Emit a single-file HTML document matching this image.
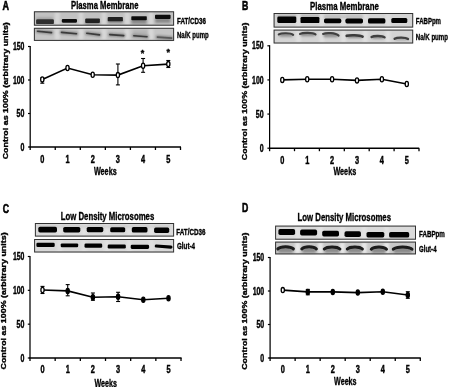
<!DOCTYPE html>
<html><head><meta charset="utf-8"><style>
html,body{margin:0;padding:0;background:#fff;width:449px;height:387px;overflow:hidden}
svg{display:block;will-change:transform;filter:blur(0.3px)}
text{font-family:"Liberation Sans", sans-serif;font-weight:bold;fill:#000;stroke:#000;stroke-width:0.35px}
</style></head><body>
<svg width="449" height="387" viewBox="0 0 449 387">
<defs><filter id="b3" filterUnits="userSpaceOnUse" x="0" y="0" width="449" height="387"><feGaussianBlur stdDeviation="0.3"/></filter><filter id="b4" filterUnits="userSpaceOnUse" x="0" y="0" width="449" height="387"><feGaussianBlur stdDeviation="0.4"/></filter><filter id="b5" filterUnits="userSpaceOnUse" x="0" y="0" width="449" height="387"><feGaussianBlur stdDeviation="0.5"/></filter><filter id="b6" filterUnits="userSpaceOnUse" x="0" y="0" width="449" height="387"><feGaussianBlur stdDeviation="0.6"/></filter><filter id="b7" filterUnits="userSpaceOnUse" x="0" y="0" width="449" height="387"><feGaussianBlur stdDeviation="0.7"/></filter><filter id="b8" filterUnits="userSpaceOnUse" x="0" y="0" width="449" height="387"><feGaussianBlur stdDeviation="0.8"/></filter><filter id="b9" filterUnits="userSpaceOnUse" x="0" y="0" width="449" height="387"><feGaussianBlur stdDeviation="0.9"/></filter><filter id="b10" filterUnits="userSpaceOnUse" x="0" y="0" width="449" height="387"><feGaussianBlur stdDeviation="1.0"/></filter><filter id="b11" filterUnits="userSpaceOnUse" x="0" y="0" width="449" height="387"><feGaussianBlur stdDeviation="1.1"/></filter><filter id="b12" filterUnits="userSpaceOnUse" x="0" y="0" width="449" height="387"><feGaussianBlur stdDeviation="1.2"/></filter><filter id="b13" filterUnits="userSpaceOnUse" x="0" y="0" width="449" height="387"><feGaussianBlur stdDeviation="1.3"/></filter><filter id="b14" filterUnits="userSpaceOnUse" x="0" y="0" width="449" height="387"><feGaussianBlur stdDeviation="1.4"/></filter><filter id="b15" filterUnits="userSpaceOnUse" x="0" y="0" width="449" height="387"><feGaussianBlur stdDeviation="1.5"/></filter></defs>

<text x="2.6" y="10.3" font-size="12.2" textLength="6.5" lengthAdjust="spacingAndGlyphs" style="stroke-width:0.6px">A</text>
<text x="71.1" y="8.9" font-size="11" textLength="67.3" lengthAdjust="spacingAndGlyphs">Plasma Membrane</text>
<rect x="33.9" y="11.3" width="140.2" height="14.4" fill="#c2c2c2"/>
<rect x="54.8" y="12.3" width="5" height="12.4" fill="#d6d6d6" filter="url(#b8)"/>
<rect x="78.5" y="12.3" width="5" height="12.4" fill="#d6d6d6" filter="url(#b8)"/>
<rect x="101.5" y="12.3" width="5" height="12.4" fill="#d6d6d6" filter="url(#b8)"/>
<rect x="124.7" y="12.3" width="5" height="12.4" fill="#d6d6d6" filter="url(#b8)"/>
<rect x="148.5" y="12.3" width="5" height="12.4" fill="#d6d6d6" filter="url(#b8)"/>
<rect x="36.5" y="17.6" width="16.5" height="2.6" fill="#777" opacity="0.5" filter="url(#b8)"/>
<rect x="36.1" y="19.2" width="17.8" height="4.9" rx="1.2" fill="#2e2e2e" opacity="1.0" filter="url(#b7)"/>
<rect x="61.8" y="18.9" width="15.2" height="3.8" rx="1.1" fill="#0e0e0e" opacity="1.0" filter="url(#b6)"/>
<rect x="85.5" y="21.5" width="14.0" height="2.7" fill="#6a6a6a" opacity="0.8" filter="url(#b8)"/>
<rect x="85.2" y="18.5" width="14.7" height="4.5" rx="0.9" fill="#222" opacity="1.0" filter="url(#b6)"/>
<rect x="108.0" y="19.8" width="14.5" height="3.0" fill="#6a6a6a" opacity="0.8" filter="url(#b8)"/>
<rect x="107.7" y="16.9" width="15.2" height="4.4" rx="0.9" fill="#222" opacity="1.0" filter="url(#b6)"/>
<rect x="131.5" y="19.0" width="15.0" height="4.8" fill="#7a7a7a" opacity="0.8" filter="url(#b10)"/>
<rect x="131.3" y="16.2" width="15.5" height="4.1" rx="0.8" fill="#0e0e0e" opacity="1.0" filter="url(#b6)"/>
<rect x="155.3" y="18.0" width="15.0" height="4.8" fill="#7a7a7a" opacity="0.8" filter="url(#b10)"/>
<rect x="155.0" y="14.7" width="15.6" height="4.2" rx="0.8" fill="#0e0e0e" opacity="1.0" filter="url(#b6)"/>
<rect x="34.4" y="11.8" width="139.2" height="13.4" fill="none" stroke="#333" stroke-width="1.0"/>
<rect x="33.9" y="27.8" width="140.2" height="13.1" fill="#c6c6c6"/>
<rect x="54.8" y="28.8" width="5" height="11.1" fill="#d8d8d8" filter="url(#b8)"/>
<rect x="78.5" y="28.8" width="5" height="11.1" fill="#d8d8d8" filter="url(#b8)"/>
<rect x="101.5" y="28.8" width="5" height="11.1" fill="#d8d8d8" filter="url(#b8)"/>
<rect x="124.7" y="28.8" width="5" height="11.1" fill="#d8d8d8" filter="url(#b8)"/>
<rect x="148.5" y="28.8" width="5" height="11.1" fill="#d8d8d8" filter="url(#b8)"/>
<path d="M37.5 31.2 L51.5 32.6" stroke="#8a8a8a" stroke-width="3.6" stroke-linecap="round" fill="none" filter="url(#b10)"/>
<path d="M37.5 31.2 L51.5 32.6" stroke="#3a3a3a" stroke-width="1.6" stroke-linecap="round" fill="none" filter="url(#b6)"/>
<path d="M61.5 32.4 L76.5 33.8" stroke="#8a8a8a" stroke-width="3.6" stroke-linecap="round" fill="none" filter="url(#b10)"/>
<path d="M61.5 32.4 L76.5 33.8" stroke="#3a3a3a" stroke-width="1.6" stroke-linecap="round" fill="none" filter="url(#b6)"/>
<path d="M86.8 33.3 L99.5 34.9" stroke="#8a8a8a" stroke-width="3.6" stroke-linecap="round" fill="none" filter="url(#b10)"/>
<path d="M86.8 33.3 L99.5 34.9" stroke="#3a3a3a" stroke-width="1.6" stroke-linecap="round" fill="none" filter="url(#b6)"/>
<path d="M109.8 34.6 L123.7 35.6" stroke="#8a8a8a" stroke-width="3.6" stroke-linecap="round" fill="none" filter="url(#b10)"/>
<path d="M109.8 34.6 L123.7 35.6" stroke="#3a3a3a" stroke-width="1.6" stroke-linecap="round" fill="none" filter="url(#b6)"/>
<rect x="133.0" y="29.8" width="14.5" height="5.7" fill="#aaa" opacity="0.6" filter="url(#b10)"/>
<path d="M133.8 35.8 L147.0 36.8" stroke="#8a8a8a" stroke-width="3.6" stroke-linecap="round" fill="none" filter="url(#b10)"/>
<path d="M133.8 35.8 L147.0 36.8" stroke="#3a3a3a" stroke-width="1.6" stroke-linecap="round" fill="none" filter="url(#b6)"/>
<path d="M157.4 37.1 L171.6 38.1" stroke="#8a8a8a" stroke-width="3.6" stroke-linecap="round" fill="none" filter="url(#b10)"/>
<path d="M157.4 37.1 L171.6 38.1" stroke="#5a5a5a" stroke-width="1.6" stroke-linecap="round" fill="none" filter="url(#b6)"/>
<rect x="34.4" y="28.3" width="139.2" height="12.1" fill="none" stroke="#333" stroke-width="1.0"/>
<text x="177" y="23.5" font-size="8.5" textLength="29" lengthAdjust="spacingAndGlyphs">FAT/CD36</text>
<text x="177" y="38.2" font-size="8.5" textLength="31.7" lengthAdjust="spacingAndGlyphs">Na/K pump</text>
<line x1="30.2" y1="45.9" x2="30.2" y2="147.0" stroke="#000" stroke-width="1.25"/>
<line x1="29.5" y1="147.0" x2="181.0" y2="147.0" stroke="#000" stroke-width="1.65"/>
<line x1="28.0" y1="147.00" x2="30.2" y2="147.00" stroke="#000" stroke-width="1.2"/>
<text x="24.4" y="150.6" font-size="10.5" text-anchor="end" textLength="3.9" lengthAdjust="spacingAndGlyphs" style="stroke-width:0.45px">0</text>
<line x1="28.0" y1="113.50" x2="30.2" y2="113.50" stroke="#000" stroke-width="1.2"/>
<text x="24.4" y="117.1" font-size="10.5" text-anchor="end" textLength="7.8" lengthAdjust="spacingAndGlyphs" style="stroke-width:0.45px">50</text>
<line x1="28.0" y1="80.00" x2="30.2" y2="80.00" stroke="#000" stroke-width="1.2"/>
<text x="24.4" y="83.6" font-size="10.5" text-anchor="end" textLength="11.5" lengthAdjust="spacingAndGlyphs" style="stroke-width:0.45px">100</text>
<line x1="28.0" y1="46.50" x2="30.2" y2="46.50" stroke="#000" stroke-width="1.2"/>
<text x="24.4" y="50.1" font-size="10.5" text-anchor="end" textLength="11.5" lengthAdjust="spacingAndGlyphs" style="stroke-width:0.45px">150</text>
<line x1="30.20" y1="147.0" x2="30.20" y2="150.0" stroke="#000" stroke-width="1.3"/>
<line x1="55.25" y1="147.0" x2="55.25" y2="150.0" stroke="#000" stroke-width="1.3"/>
<line x1="80.30" y1="147.0" x2="80.30" y2="150.0" stroke="#000" stroke-width="1.3"/>
<line x1="105.35" y1="147.0" x2="105.35" y2="150.0" stroke="#000" stroke-width="1.3"/>
<line x1="130.40" y1="147.0" x2="130.40" y2="150.0" stroke="#000" stroke-width="1.3"/>
<line x1="155.45" y1="147.0" x2="155.45" y2="150.0" stroke="#000" stroke-width="1.3"/>
<line x1="180.50" y1="147.0" x2="180.50" y2="150.0" stroke="#000" stroke-width="1.3"/>
<text x="42.3" y="162.8" font-size="10.5" text-anchor="middle" textLength="4.1" lengthAdjust="spacingAndGlyphs" style="stroke-width:0.45px">0</text>
<text x="67.5" y="162.8" font-size="10.5" text-anchor="middle" textLength="4.1" lengthAdjust="spacingAndGlyphs" style="stroke-width:0.45px">1</text>
<text x="92.7" y="162.8" font-size="10.5" text-anchor="middle" textLength="4.1" lengthAdjust="spacingAndGlyphs" style="stroke-width:0.45px">2</text>
<text x="117.9" y="162.8" font-size="10.5" text-anchor="middle" textLength="4.1" lengthAdjust="spacingAndGlyphs" style="stroke-width:0.45px">3</text>
<text x="143.1" y="162.8" font-size="10.5" text-anchor="middle" textLength="4.1" lengthAdjust="spacingAndGlyphs" style="stroke-width:0.45px">4</text>
<text x="168.3" y="162.8" font-size="10.5" text-anchor="middle" textLength="4.1" lengthAdjust="spacingAndGlyphs" style="stroke-width:0.45px">5</text>
<text x="93.9" y="174.7" font-size="11" textLength="22.8" lengthAdjust="spacingAndGlyphs">Weeks</text>
<text transform="translate(7.6 159.3) rotate(-90)" x="0" y="0" font-size="7.6" textLength="137.1" lengthAdjust="spacingAndGlyphs">Control as 100% (arbitrary units)</text>
<path d="M42.30 79.40 L67.50 68.00 L92.70 74.80 L117.90 75.10 L143.10 65.70 L168.30 64.10" fill="none" stroke="#000" stroke-width="1.6"/>
<line x1="42.30" y1="78.0" x2="42.30" y2="83.2" stroke="#000" stroke-width="1.1"/>
<line x1="40.30" y1="78.0" x2="44.30" y2="78.0" stroke="#000" stroke-width="1.1"/>
<line x1="40.30" y1="83.2" x2="44.30" y2="83.2" stroke="#000" stroke-width="1.1"/>
<line x1="117.90" y1="64" x2="117.90" y2="84.9" stroke="#000" stroke-width="1.1"/>
<line x1="115.90" y1="64" x2="119.90" y2="64" stroke="#000" stroke-width="1.1"/>
<line x1="115.90" y1="84.9" x2="119.90" y2="84.9" stroke="#000" stroke-width="1.1"/>
<line x1="143.10" y1="58.5" x2="143.10" y2="72.3" stroke="#000" stroke-width="1.1"/>
<line x1="141.10" y1="58.5" x2="145.10" y2="58.5" stroke="#000" stroke-width="1.1"/>
<line x1="141.10" y1="72.3" x2="145.10" y2="72.3" stroke="#000" stroke-width="1.1"/>
<line x1="168.30" y1="60.5" x2="168.30" y2="67.5" stroke="#000" stroke-width="1.1"/>
<line x1="166.30" y1="60.5" x2="170.30" y2="60.5" stroke="#000" stroke-width="1.1"/>
<line x1="166.30" y1="67.5" x2="170.30" y2="67.5" stroke="#000" stroke-width="1.1"/>
<ellipse cx="42.30" cy="79.40" rx="1.6" ry="2.6" fill="#fff" stroke="#000" stroke-width="1.3"/>
<ellipse cx="67.50" cy="68.00" rx="1.6" ry="2.6" fill="#fff" stroke="#000" stroke-width="1.3"/>
<ellipse cx="92.70" cy="74.80" rx="1.6" ry="2.6" fill="#fff" stroke="#000" stroke-width="1.3"/>
<ellipse cx="117.90" cy="75.10" rx="1.6" ry="2.6" fill="#fff" stroke="#000" stroke-width="1.3"/>
<ellipse cx="143.10" cy="65.70" rx="1.6" ry="2.6" fill="#fff" stroke="#000" stroke-width="1.3"/>
<ellipse cx="168.30" cy="64.10" rx="1.6" ry="2.6" fill="#fff" stroke="#000" stroke-width="1.3"/>
<text x="142.5" y="56.3" font-size="9" text-anchor="middle">*</text>
<text x="168.3" y="55.4" font-size="9" text-anchor="middle">*</text>
<text x="242" y="10.1" font-size="12.2" textLength="6.3" lengthAdjust="spacingAndGlyphs" style="stroke-width:0.6px">B</text>
<text x="310.1" y="9.8" font-size="11" textLength="68.7" lengthAdjust="spacingAndGlyphs">Plasma Membrane</text>
<rect x="273.6" y="13.0" width="139.6" height="14.6" fill="#d4d4d4"/>
<rect x="296.0" y="14.0" width="5" height="12.6" fill="#dedede" filter="url(#b8)"/>
<rect x="319.3" y="14.0" width="5" height="12.6" fill="#dedede" filter="url(#b8)"/>
<rect x="341.0" y="14.0" width="5" height="12.6" fill="#dedede" filter="url(#b8)"/>
<rect x="362.7" y="14.0" width="5" height="12.6" fill="#dedede" filter="url(#b8)"/>
<rect x="385.5" y="14.0" width="5" height="12.6" fill="#dedede" filter="url(#b8)"/>
<rect x="277.6" y="14.8" width="18.4" height="3.2" fill="#999" opacity="0.6" filter="url(#b10)"/>
<rect x="301.0" y="14.8" width="18.0" height="3.7" fill="#999" opacity="0.5" filter="url(#b10)"/>
<rect x="324.0" y="14.8" width="39.0" height="3.7" fill="#aaa" opacity="0.5" filter="url(#b10)"/>
<rect x="277.3" y="16.6" width="19.0" height="6.3" rx="1.3" fill="#050505" opacity="1.0" filter="url(#b6)"/>
<rect x="300.5" y="17.1" width="18.9" height="6.0" rx="1.2" fill="#050505" opacity="1.0" filter="url(#b6)"/>
<rect x="324.0" y="18.6" width="17.3" height="4.6" rx="1.6" fill="#050505" opacity="1.0" filter="url(#b6)"/>
<rect x="345.4" y="18.6" width="17.6" height="4.8" rx="1.7" fill="#050505" opacity="1.0" filter="url(#b6)"/>
<rect x="368.0" y="18.3" width="17.4" height="5.2" rx="1.6" fill="#050505" opacity="1.0" filter="url(#b6)"/>
<rect x="391.3" y="17.9" width="16.0" height="5.1" rx="1.5" fill="#050505" opacity="1.0" filter="url(#b6)"/>
<rect x="274.1" y="13.5" width="138.6" height="13.6" fill="none" stroke="#333" stroke-width="1.0"/>
<rect x="273.6" y="29.6" width="139.6" height="13.9" fill="#d4d4d4"/>
<rect x="296.0" y="30.6" width="5" height="11.9" fill="#e0e0e0" filter="url(#b8)"/>
<rect x="319.3" y="30.6" width="5" height="11.9" fill="#e0e0e0" filter="url(#b8)"/>
<rect x="341.0" y="30.6" width="5" height="11.9" fill="#e0e0e0" filter="url(#b8)"/>
<rect x="362.7" y="30.6" width="5" height="11.9" fill="#e0e0e0" filter="url(#b8)"/>
<rect x="385.5" y="30.6" width="5" height="11.9" fill="#e0e0e0" filter="url(#b8)"/>
<path d="M278.8 34.4 C281.4 32.8 290.5 32.8 293.1 34.8 L292.1 36.8 L279.8 36.8 Z" fill="#8e8e8e" filter="url(#b11)"/><path d="M278.8 34.4 C281.4 32.8 290.5 32.8 293.1 34.8" fill="none" stroke="#404040" stroke-width="2.2" stroke-linecap="round" filter="url(#b7)"/>
<path d="M300.1 33.9 C302.9 32.4 312.7 32.4 315.5 34.3 L314.5 36.2 L301.1 36.2 Z" fill="#8e8e8e" filter="url(#b11)"/><path d="M300.1 33.9 C302.9 32.4 312.7 32.4 315.5 34.3" fill="none" stroke="#404040" stroke-width="2.2" stroke-linecap="round" filter="url(#b7)"/>
<path d="M323.1 33.9 C325.9 32.7 335.7 32.7 338.5 35.6 L337.5 37.2 L324.1 37.2 Z" fill="#8e8e8e" filter="url(#b11)"/><path d="M323.1 33.9 C325.9 32.7 335.7 32.7 338.5 35.6" fill="none" stroke="#404040" stroke-width="2.2" stroke-linecap="round" filter="url(#b7)"/>
<path d="M346.7 35.8 C349.6 34.9 359.7 34.9 362.6 36.6 L361.6 38.0 L347.7 38.0 Z" fill="#858585" filter="url(#b11)"/><path d="M346.7 35.8 C349.6 34.9 359.7 34.9 362.6 36.6" fill="none" stroke="#3a3a3a" stroke-width="2.6" stroke-linecap="round" filter="url(#b7)"/>
<path d="M371.5 37.0 C373.9 35.6 382.2 35.6 384.6 37.4 L383.6 38.8 L372.5 38.8 Z" fill="#8e8e8e" filter="url(#b11)"/><path d="M371.5 37.0 C373.9 35.6 382.2 35.6 384.6 37.4" fill="none" stroke="#404040" stroke-width="2.3" stroke-linecap="round" filter="url(#b7)"/>
<path d="M394.6 38.8 C397.0 37.2 405.6 37.2 408.0 39.0 L407.0 40.2 L395.6 40.2 Z" fill="#a0a0a0" filter="url(#b11)"/><path d="M394.6 38.8 C397.0 37.2 405.6 37.2 408.0 39.0" fill="none" stroke="#404040" stroke-width="2.3" stroke-linecap="round" filter="url(#b7)"/>
<rect x="274.1" y="30.1" width="138.6" height="12.9" fill="none" stroke="#333" stroke-width="1.0"/>
<text x="415.8" y="23.8" font-size="8.5" textLength="25.2" lengthAdjust="spacingAndGlyphs">FABPpm</text>
<text x="415.8" y="39.8" font-size="8.5" textLength="32.2" lengthAdjust="spacingAndGlyphs">Na/K pump</text>
<line x1="269.6" y1="45.199999999999996" x2="269.6" y2="148.2" stroke="#000" stroke-width="1.25"/>
<line x1="268.90000000000003" y1="148.2" x2="419.2" y2="148.2" stroke="#000" stroke-width="1.65"/>
<line x1="267.40000000000003" y1="148.20" x2="269.6" y2="148.20" stroke="#000" stroke-width="1.2"/>
<text x="263.6" y="151.8" font-size="10.5" text-anchor="end" textLength="3.9" lengthAdjust="spacingAndGlyphs" style="stroke-width:0.45px">0</text>
<line x1="267.40000000000003" y1="114.07" x2="269.6" y2="114.07" stroke="#000" stroke-width="1.2"/>
<text x="263.6" y="117.67" font-size="10.5" text-anchor="end" textLength="7.8" lengthAdjust="spacingAndGlyphs" style="stroke-width:0.45px">50</text>
<line x1="267.40000000000003" y1="79.93" x2="269.6" y2="79.93" stroke="#000" stroke-width="1.2"/>
<text x="263.6" y="83.53" font-size="10.5" text-anchor="end" textLength="11.5" lengthAdjust="spacingAndGlyphs" style="stroke-width:0.45px">100</text>
<line x1="267.40000000000003" y1="45.80" x2="269.6" y2="45.80" stroke="#000" stroke-width="1.2"/>
<text x="263.6" y="49.4" font-size="10.5" text-anchor="end" textLength="11.5" lengthAdjust="spacingAndGlyphs" style="stroke-width:0.45px">150</text>
<line x1="269.60" y1="148.2" x2="269.60" y2="151.2" stroke="#000" stroke-width="1.3"/>
<line x1="294.50" y1="148.2" x2="294.50" y2="151.2" stroke="#000" stroke-width="1.3"/>
<line x1="319.40" y1="148.2" x2="319.40" y2="151.2" stroke="#000" stroke-width="1.3"/>
<line x1="344.30" y1="148.2" x2="344.30" y2="151.2" stroke="#000" stroke-width="1.3"/>
<line x1="369.20" y1="148.2" x2="369.20" y2="151.2" stroke="#000" stroke-width="1.3"/>
<line x1="394.10" y1="148.2" x2="394.10" y2="151.2" stroke="#000" stroke-width="1.3"/>
<line x1="419.00" y1="148.2" x2="419.00" y2="151.2" stroke="#000" stroke-width="1.3"/>
<text x="282.3" y="163.8" font-size="10.5" text-anchor="middle" textLength="4.1" lengthAdjust="spacingAndGlyphs" style="stroke-width:0.45px">0</text>
<text x="307.2" y="163.8" font-size="10.5" text-anchor="middle" textLength="4.1" lengthAdjust="spacingAndGlyphs" style="stroke-width:0.45px">1</text>
<text x="332.1" y="163.8" font-size="10.5" text-anchor="middle" textLength="4.1" lengthAdjust="spacingAndGlyphs" style="stroke-width:0.45px">2</text>
<text x="357.0" y="163.8" font-size="10.5" text-anchor="middle" textLength="4.1" lengthAdjust="spacingAndGlyphs" style="stroke-width:0.45px">3</text>
<text x="381.9" y="163.8" font-size="10.5" text-anchor="middle" textLength="4.1" lengthAdjust="spacingAndGlyphs" style="stroke-width:0.45px">4</text>
<text x="406.8" y="163.8" font-size="10.5" text-anchor="middle" textLength="4.1" lengthAdjust="spacingAndGlyphs" style="stroke-width:0.45px">5</text>
<text x="333.4" y="175.0" font-size="11" textLength="22.8" lengthAdjust="spacingAndGlyphs">Weeks</text>
<text transform="translate(246.8 160.2) rotate(-90)" x="0" y="0" font-size="7.6" textLength="137.6" lengthAdjust="spacingAndGlyphs">Control as 100% (arbitrary units)</text>
<path d="M282.30 79.90 L307.20 79.30 L332.10 79.30 L357.00 80.40 L381.90 79.20 L406.80 84.00" fill="none" stroke="#000" stroke-width="1.6"/>
<ellipse cx="282.30" cy="79.90" rx="1.6" ry="2.6" fill="#fff" stroke="#000" stroke-width="1.3"/>
<ellipse cx="307.20" cy="79.30" rx="1.6" ry="2.6" fill="#fff" stroke="#000" stroke-width="1.3"/>
<ellipse cx="332.10" cy="79.30" rx="1.6" ry="2.6" fill="#fff" stroke="#000" stroke-width="1.3"/>
<ellipse cx="357.00" cy="80.40" rx="1.6" ry="2.6" fill="#fff" stroke="#000" stroke-width="1.3"/>
<ellipse cx="381.90" cy="79.20" rx="1.6" ry="2.6" fill="#fff" stroke="#000" stroke-width="1.3"/>
<ellipse cx="406.80" cy="84.00" rx="1.6" ry="2.6" fill="#fff" stroke="#000" stroke-width="1.3"/>
<text x="2.8" y="213.3" font-size="12.2" textLength="6.3" lengthAdjust="spacingAndGlyphs" style="stroke-width:0.6px">C</text>
<text x="60.7" y="220.2" font-size="11" textLength="93.6" lengthAdjust="spacingAndGlyphs">Low Density Microsomes</text>
<rect x="34.9" y="223.0" width="139.2" height="13.6" fill="#dadada"/>
<rect x="57.2" y="224.0" width="5" height="11.6" fill="#e2e2e2" filter="url(#b8)"/>
<rect x="81.5" y="224.0" width="5" height="11.6" fill="#e2e2e2" filter="url(#b8)"/>
<rect x="104.5" y="224.0" width="5" height="11.6" fill="#e2e2e2" filter="url(#b8)"/>
<rect x="126.8" y="224.0" width="5" height="11.6" fill="#e2e2e2" filter="url(#b8)"/>
<rect x="148.9" y="224.0" width="5" height="11.6" fill="#e2e2e2" filter="url(#b8)"/>
<rect x="38.0" y="225.3" width="132.0" height="2.5" fill="#bbb" opacity="0.5" filter="url(#b10)"/>
<rect x="38.3" y="226.7" width="18.7" height="5.7" rx="1.7" fill="#050505" opacity="1.0" filter="url(#b6)"/>
<rect x="63.2" y="226.9" width="17.1" height="5.5" rx="1.6" fill="#050505" opacity="1.0" filter="url(#b6)"/>
<rect x="86.7" y="226.9" width="16.6" height="5.3" rx="1.6" fill="#050505" opacity="1.0" filter="url(#b6)"/>
<rect x="110.2" y="227.2" width="15.0" height="5.0" rx="1.5" fill="#050505" opacity="1.0" filter="url(#b6)"/>
<rect x="131.8" y="227.0" width="15.7" height="5.6" rx="1.7" fill="#050505" opacity="1.0" filter="url(#b6)"/>
<rect x="154.1" y="227.6" width="15.1" height="5.3" rx="1.6" fill="#050505" opacity="1.0" filter="url(#b6)"/>
<rect x="35.4" y="223.5" width="138.2" height="12.6" fill="none" stroke="#333" stroke-width="1.0"/>
<rect x="34.1" y="239.0" width="140.0" height="13.5" fill="#d8d8d8"/>
<rect x="57.2" y="240.0" width="5" height="11.5" fill="#e0e0e0" filter="url(#b8)"/>
<rect x="81.5" y="240.0" width="5" height="11.5" fill="#e0e0e0" filter="url(#b8)"/>
<rect x="104.5" y="240.0" width="5" height="11.5" fill="#e0e0e0" filter="url(#b8)"/>
<rect x="126.8" y="240.0" width="5" height="11.5" fill="#e0e0e0" filter="url(#b8)"/>
<rect x="148.9" y="240.0" width="5" height="11.5" fill="#e0e0e0" filter="url(#b8)"/>
<rect x="36.4" y="242.8" width="18.3" height="4.3" rx="1.3" fill="#050505" opacity="1.0" filter="url(#b6)"/>
<rect x="60.7" y="243.4" width="17.5" height="3.9" rx="1.2" fill="#050505" opacity="1.0" filter="url(#b6)"/>
<rect x="84.5" y="243.5" width="17.7" height="4.3" rx="1.3" fill="#050505" opacity="1.0" filter="url(#b6)"/>
<rect x="107.7" y="244.4" width="18.1" height="4.2" rx="1.3" fill="#050505" opacity="1.0" filter="url(#b6)"/>
<rect x="130.7" y="244.7" width="18.4" height="4.2" rx="1.3" fill="#050505" opacity="1.0" filter="url(#b6)"/>
<path d="M156.3 246.0 L170.9 247.1" stroke="#050505" stroke-width="3.2" stroke-linecap="round" fill="none" filter="url(#b6)"/>
<rect x="34.6" y="239.5" width="139.0" height="12.5" fill="none" stroke="#333" stroke-width="1.0"/>
<text x="176.3" y="235.3" font-size="8.5" textLength="29.2" lengthAdjust="spacingAndGlyphs">FAT/CD36</text>
<text x="177.0" y="249.3" font-size="8.5" textLength="18.0" lengthAdjust="spacingAndGlyphs">Glut-4</text>
<line x1="30.0" y1="255.9" x2="30.0" y2="358.0" stroke="#000" stroke-width="1.25"/>
<line x1="29.3" y1="358.0" x2="181.6" y2="358.0" stroke="#000" stroke-width="1.65"/>
<line x1="27.8" y1="358.00" x2="30.0" y2="358.00" stroke="#000" stroke-width="1.2"/>
<text x="24.4" y="361.6" font-size="10.5" text-anchor="end" textLength="3.9" lengthAdjust="spacingAndGlyphs" style="stroke-width:0.45px">0</text>
<line x1="27.8" y1="324.17" x2="30.0" y2="324.17" stroke="#000" stroke-width="1.2"/>
<text x="24.4" y="327.77" font-size="10.5" text-anchor="end" textLength="7.8" lengthAdjust="spacingAndGlyphs" style="stroke-width:0.45px">50</text>
<line x1="27.8" y1="290.33" x2="30.0" y2="290.33" stroke="#000" stroke-width="1.2"/>
<text x="24.4" y="293.93" font-size="10.5" text-anchor="end" textLength="11.5" lengthAdjust="spacingAndGlyphs" style="stroke-width:0.45px">100</text>
<line x1="27.8" y1="256.50" x2="30.0" y2="256.50" stroke="#000" stroke-width="1.2"/>
<text x="24.4" y="260.1" font-size="10.5" text-anchor="end" textLength="11.5" lengthAdjust="spacingAndGlyphs" style="stroke-width:0.45px">150</text>
<line x1="30.00" y1="358.0" x2="30.00" y2="361.0" stroke="#000" stroke-width="1.3"/>
<line x1="55.17" y1="358.0" x2="55.17" y2="361.0" stroke="#000" stroke-width="1.3"/>
<line x1="80.34" y1="358.0" x2="80.34" y2="361.0" stroke="#000" stroke-width="1.3"/>
<line x1="105.51" y1="358.0" x2="105.51" y2="361.0" stroke="#000" stroke-width="1.3"/>
<line x1="130.68" y1="358.0" x2="130.68" y2="361.0" stroke="#000" stroke-width="1.3"/>
<line x1="155.85" y1="358.0" x2="155.85" y2="361.0" stroke="#000" stroke-width="1.3"/>
<line x1="181.02" y1="358.0" x2="181.02" y2="361.0" stroke="#000" stroke-width="1.3"/>
<text x="42.5" y="372.6" font-size="10.5" text-anchor="middle" textLength="4.1" lengthAdjust="spacingAndGlyphs" style="stroke-width:0.45px">0</text>
<text x="67.7" y="372.6" font-size="10.5" text-anchor="middle" textLength="4.1" lengthAdjust="spacingAndGlyphs" style="stroke-width:0.45px">1</text>
<text x="92.9" y="372.6" font-size="10.5" text-anchor="middle" textLength="4.1" lengthAdjust="spacingAndGlyphs" style="stroke-width:0.45px">2</text>
<text x="118.1" y="372.6" font-size="10.5" text-anchor="middle" textLength="4.1" lengthAdjust="spacingAndGlyphs" style="stroke-width:0.45px">3</text>
<text x="143.3" y="372.6" font-size="10.5" text-anchor="middle" textLength="4.1" lengthAdjust="spacingAndGlyphs" style="stroke-width:0.45px">4</text>
<text x="168.5" y="372.6" font-size="10.5" text-anchor="middle" textLength="4.1" lengthAdjust="spacingAndGlyphs" style="stroke-width:0.45px">5</text>
<text x="94.4" y="387.3" font-size="11" textLength="22.5" lengthAdjust="spacingAndGlyphs">Weeks</text>
<text transform="translate(6.1 369.5) rotate(-90)" x="0" y="0" font-size="7.6" textLength="137.1" lengthAdjust="spacingAndGlyphs">Control as 100% (arbitrary units)</text>
<path d="M42.50 290.00 L67.70 290.90 L92.90 297.30 L118.10 296.70 L143.30 299.80 L168.50 298.20" fill="none" stroke="#000" stroke-width="1.6"/>
<line x1="42.50" y1="286.4" x2="42.50" y2="293.5" stroke="#000" stroke-width="1.1"/>
<line x1="40.50" y1="286.4" x2="44.50" y2="286.4" stroke="#000" stroke-width="1.1"/>
<line x1="40.50" y1="293.5" x2="44.50" y2="293.5" stroke="#000" stroke-width="1.1"/>
<line x1="67.70" y1="284.6" x2="67.70" y2="295.8" stroke="#000" stroke-width="1.1"/>
<line x1="65.70" y1="284.6" x2="69.70" y2="284.6" stroke="#000" stroke-width="1.1"/>
<line x1="65.70" y1="295.8" x2="69.70" y2="295.8" stroke="#000" stroke-width="1.1"/>
<line x1="92.90" y1="293" x2="92.90" y2="300.3" stroke="#000" stroke-width="1.1"/>
<line x1="90.90" y1="293" x2="94.90" y2="293" stroke="#000" stroke-width="1.1"/>
<line x1="90.90" y1="300.3" x2="94.90" y2="300.3" stroke="#000" stroke-width="1.1"/>
<line x1="118.10" y1="292.3" x2="118.10" y2="301.5" stroke="#000" stroke-width="1.1"/>
<line x1="116.10" y1="292.3" x2="120.10" y2="292.3" stroke="#000" stroke-width="1.1"/>
<line x1="116.10" y1="301.5" x2="120.10" y2="301.5" stroke="#000" stroke-width="1.1"/>
<ellipse cx="42.50" cy="290.00" rx="1.6" ry="2.6" fill="#fff" stroke="#000" stroke-width="1.3"/>
<ellipse cx="67.70" cy="290.90" rx="1.6" ry="2.6" fill="#000" stroke="#000" stroke-width="1.3"/>
<ellipse cx="92.90" cy="297.30" rx="1.6" ry="2.6" fill="#000" stroke="#000" stroke-width="1.3"/>
<ellipse cx="118.10" cy="296.70" rx="1.6" ry="2.6" fill="#000" stroke="#000" stroke-width="1.3"/>
<ellipse cx="143.30" cy="299.80" rx="1.6" ry="2.6" fill="#000" stroke="#000" stroke-width="1.3"/>
<ellipse cx="168.50" cy="298.20" rx="1.6" ry="2.6" fill="#000" stroke="#000" stroke-width="1.3"/>
<text x="242" y="212.2" font-size="12.2" textLength="6.3" lengthAdjust="spacingAndGlyphs" style="stroke-width:0.6px">D</text>
<text x="297.6" y="220.8" font-size="11" textLength="93.4" lengthAdjust="spacingAndGlyphs">Low Density Microsomes</text>
<rect x="275.1" y="225.6" width="140.9" height="14.1" fill="#dadada"/>
<rect x="295.1" y="226.6" width="5" height="12.1" fill="#e2e2e2" filter="url(#b8)"/>
<rect x="317.9" y="226.6" width="5" height="12.1" fill="#e2e2e2" filter="url(#b8)"/>
<rect x="339.8" y="226.6" width="5" height="12.1" fill="#e2e2e2" filter="url(#b8)"/>
<rect x="361.7" y="226.6" width="5" height="12.1" fill="#e2e2e2" filter="url(#b8)"/>
<rect x="384.1" y="226.6" width="5" height="12.1" fill="#e2e2e2" filter="url(#b8)"/>
<rect x="278.4" y="229.1" width="16.7" height="5.8" rx="1.7" fill="#030303" opacity="1.0" filter="url(#b6)"/>
<rect x="300.1" y="229.6" width="17.0" height="6.0" rx="1.8" fill="#030303" opacity="1.0" filter="url(#b6)"/>
<rect x="322.2" y="230.7" width="16.8" height="5.7" rx="1.7" fill="#030303" opacity="1.0" filter="url(#b6)"/>
<rect x="344.5" y="231.2" width="16.4" height="5.9" rx="1.8" fill="#030303" opacity="1.0" filter="url(#b6)"/>
<rect x="366.5" y="232.0" width="17.8" height="5.4" rx="1.6" fill="#030303" opacity="1.0" filter="url(#b6)"/>
<rect x="389.1" y="232.0" width="20.1" height="5.6" rx="1.7" fill="#030303" opacity="1.0" filter="url(#b6)"/>
<rect x="275.6" y="226.1" width="139.9" height="13.1" fill="none" stroke="#333" stroke-width="1.0"/>
<rect x="275.1" y="241.6" width="140.9" height="12.8" fill="#c8c8c8"/>
<rect x="295.1" y="242.6" width="5" height="10.8" fill="#e8e8e8" filter="url(#b8)"/>
<rect x="317.9" y="242.6" width="5" height="10.8" fill="#e8e8e8" filter="url(#b8)"/>
<rect x="339.8" y="242.6" width="5" height="10.8" fill="#e8e8e8" filter="url(#b8)"/>
<rect x="361.7" y="242.6" width="5" height="10.8" fill="#e8e8e8" filter="url(#b8)"/>
<rect x="384.1" y="242.6" width="5" height="10.8" fill="#e8e8e8" filter="url(#b8)"/>
<path d="M277.8 248.9 C280.6 246.0 290.6 246.0 293.4 248.9 L292.4 252.8 L278.8 252.8 Z" fill="#8a8a8a" filter="url(#b10)"/><path d="M277.8 248.9 C280.6 246.0 290.6 246.0 293.4 248.9" fill="none" stroke="#1a1a1a" stroke-width="3.0" stroke-linecap="round" filter="url(#b6)"/>
<path d="M301.8 248.9 C304.4 246.0 313.8 246.0 316.4 248.9 L315.4 252.8 L302.8 252.8 Z" fill="#8a8a8a" filter="url(#b10)"/><path d="M301.8 248.9 C304.4 246.0 313.8 246.0 316.4 248.9" fill="none" stroke="#1a1a1a" stroke-width="3.0" stroke-linecap="round" filter="url(#b6)"/>
<path d="M324.3 249.0 C327.1 246.3 337.1 246.3 339.9 249.0 L338.9 252.8 L325.3 252.8 Z" fill="#8a8a8a" filter="url(#b10)"/><path d="M324.3 249.0 C327.1 246.3 337.1 246.3 339.9 249.0" fill="none" stroke="#1a1a1a" stroke-width="3.0" stroke-linecap="round" filter="url(#b6)"/>
<path d="M347.3 249.0 C350.0 246.3 359.7 246.3 362.4 249.0 L361.4 252.8 L348.3 252.8 Z" fill="#8a8a8a" filter="url(#b10)"/><path d="M347.3 249.0 C350.0 246.3 359.7 246.3 362.4 249.0" fill="none" stroke="#1a1a1a" stroke-width="3.0" stroke-linecap="round" filter="url(#b6)"/>
<path d="M371.3 249.2 C374.0 246.3 383.8 246.3 386.5 249.2 L385.5 253.0 L372.3 253.0 Z" fill="#8a8a8a" filter="url(#b10)"/><path d="M371.3 249.2 C374.0 246.3 383.8 246.3 386.5 249.2" fill="none" stroke="#1a1a1a" stroke-width="3.0" stroke-linecap="round" filter="url(#b6)"/>
<path d="M393.3 249.2 C396.7 246.3 408.6 246.3 412.0 249.2 L411.0 253.0 L394.3 253.0 Z" fill="#8a8a8a" filter="url(#b10)"/><path d="M393.3 249.2 C396.7 246.3 408.6 246.3 412.0 249.2" fill="none" stroke="#1a1a1a" stroke-width="3.0" stroke-linecap="round" filter="url(#b6)"/>
<rect x="275.6" y="242.1" width="139.9" height="11.8" fill="none" stroke="#333" stroke-width="1.0"/>
<text x="419.0" y="237.2" font-size="8.5" textLength="25.9" lengthAdjust="spacingAndGlyphs">FABPpm</text>
<text x="419.0" y="251.7" font-size="9.5" textLength="17.5" lengthAdjust="spacingAndGlyphs">Glut-4</text>
<line x1="270.1" y1="256.9" x2="270.1" y2="358" stroke="#000" stroke-width="1.25"/>
<line x1="269.40000000000003" y1="358" x2="420.8" y2="358" stroke="#000" stroke-width="1.65"/>
<line x1="267.90000000000003" y1="358.00" x2="270.1" y2="358.00" stroke="#000" stroke-width="1.2"/>
<text x="264.2" y="361.6" font-size="10.5" text-anchor="end" textLength="3.9" lengthAdjust="spacingAndGlyphs" style="stroke-width:0.45px">0</text>
<line x1="267.90000000000003" y1="324.50" x2="270.1" y2="324.50" stroke="#000" stroke-width="1.2"/>
<text x="264.2" y="328.1" font-size="10.5" text-anchor="end" textLength="7.8" lengthAdjust="spacingAndGlyphs" style="stroke-width:0.45px">50</text>
<line x1="267.90000000000003" y1="291.00" x2="270.1" y2="291.00" stroke="#000" stroke-width="1.2"/>
<text x="264.2" y="294.6" font-size="10.5" text-anchor="end" textLength="11.5" lengthAdjust="spacingAndGlyphs" style="stroke-width:0.45px">100</text>
<line x1="267.90000000000003" y1="257.50" x2="270.1" y2="257.50" stroke="#000" stroke-width="1.2"/>
<text x="264.2" y="261.1" font-size="10.5" text-anchor="end" textLength="11.5" lengthAdjust="spacingAndGlyphs" style="stroke-width:0.45px">150</text>
<line x1="270.10" y1="358" x2="270.10" y2="361" stroke="#000" stroke-width="1.3"/>
<line x1="295.13" y1="358" x2="295.13" y2="361" stroke="#000" stroke-width="1.3"/>
<line x1="320.16" y1="358" x2="320.16" y2="361" stroke="#000" stroke-width="1.3"/>
<line x1="345.19" y1="358" x2="345.19" y2="361" stroke="#000" stroke-width="1.3"/>
<line x1="370.22" y1="358" x2="370.22" y2="361" stroke="#000" stroke-width="1.3"/>
<line x1="395.25" y1="358" x2="395.25" y2="361" stroke="#000" stroke-width="1.3"/>
<line x1="420.28" y1="358" x2="420.28" y2="361" stroke="#000" stroke-width="1.3"/>
<text x="282.8" y="372.5" font-size="10.5" text-anchor="middle" textLength="4.1" lengthAdjust="spacingAndGlyphs" style="stroke-width:0.45px">0</text>
<text x="307.8" y="372.5" font-size="10.5" text-anchor="middle" textLength="4.1" lengthAdjust="spacingAndGlyphs" style="stroke-width:0.45px">1</text>
<text x="332.8" y="372.5" font-size="10.5" text-anchor="middle" textLength="4.1" lengthAdjust="spacingAndGlyphs" style="stroke-width:0.45px">2</text>
<text x="357.8" y="372.5" font-size="10.5" text-anchor="middle" textLength="4.1" lengthAdjust="spacingAndGlyphs" style="stroke-width:0.45px">3</text>
<text x="382.8" y="372.5" font-size="10.5" text-anchor="middle" textLength="4.1" lengthAdjust="spacingAndGlyphs" style="stroke-width:0.45px">4</text>
<text x="407.8" y="372.5" font-size="10.5" text-anchor="middle" textLength="4.1" lengthAdjust="spacingAndGlyphs" style="stroke-width:0.45px">5</text>
<text x="334.0" y="384.9" font-size="11" textLength="22.6" lengthAdjust="spacingAndGlyphs">Weeks</text>
<text transform="translate(247.4 369.8) rotate(-90)" x="0" y="0" font-size="7.6" textLength="137.2" lengthAdjust="spacingAndGlyphs">Control as 100% (arbitrary units)</text>
<path d="M282.80 290.10 L307.80 291.90 L332.80 291.90 L357.80 292.60 L382.80 291.70 L407.80 295.00" fill="none" stroke="#000" stroke-width="1.6"/>
<line x1="307.80" y1="289.4" x2="307.80" y2="294.8" stroke="#000" stroke-width="1.1"/>
<line x1="305.80" y1="289.4" x2="309.80" y2="289.4" stroke="#000" stroke-width="1.1"/>
<line x1="305.80" y1="294.8" x2="309.80" y2="294.8" stroke="#000" stroke-width="1.1"/>
<line x1="407.80" y1="291.7" x2="407.80" y2="298.3" stroke="#000" stroke-width="1.1"/>
<line x1="405.80" y1="291.7" x2="409.80" y2="291.7" stroke="#000" stroke-width="1.1"/>
<line x1="405.80" y1="298.3" x2="409.80" y2="298.3" stroke="#000" stroke-width="1.1"/>
<ellipse cx="282.80" cy="290.10" rx="1.6" ry="2.6" fill="#fff" stroke="#000" stroke-width="1.3"/>
<ellipse cx="307.80" cy="291.90" rx="1.6" ry="2.6" fill="#000" stroke="#000" stroke-width="1.3"/>
<ellipse cx="332.80" cy="291.90" rx="1.6" ry="2.6" fill="#000" stroke="#000" stroke-width="1.3"/>
<ellipse cx="357.80" cy="292.60" rx="1.6" ry="2.6" fill="#000" stroke="#000" stroke-width="1.3"/>
<ellipse cx="382.80" cy="291.70" rx="1.6" ry="2.6" fill="#000" stroke="#000" stroke-width="1.3"/>
<ellipse cx="407.80" cy="295.00" rx="1.6" ry="2.6" fill="#000" stroke="#000" stroke-width="1.3"/>
</svg>
</body></html>
